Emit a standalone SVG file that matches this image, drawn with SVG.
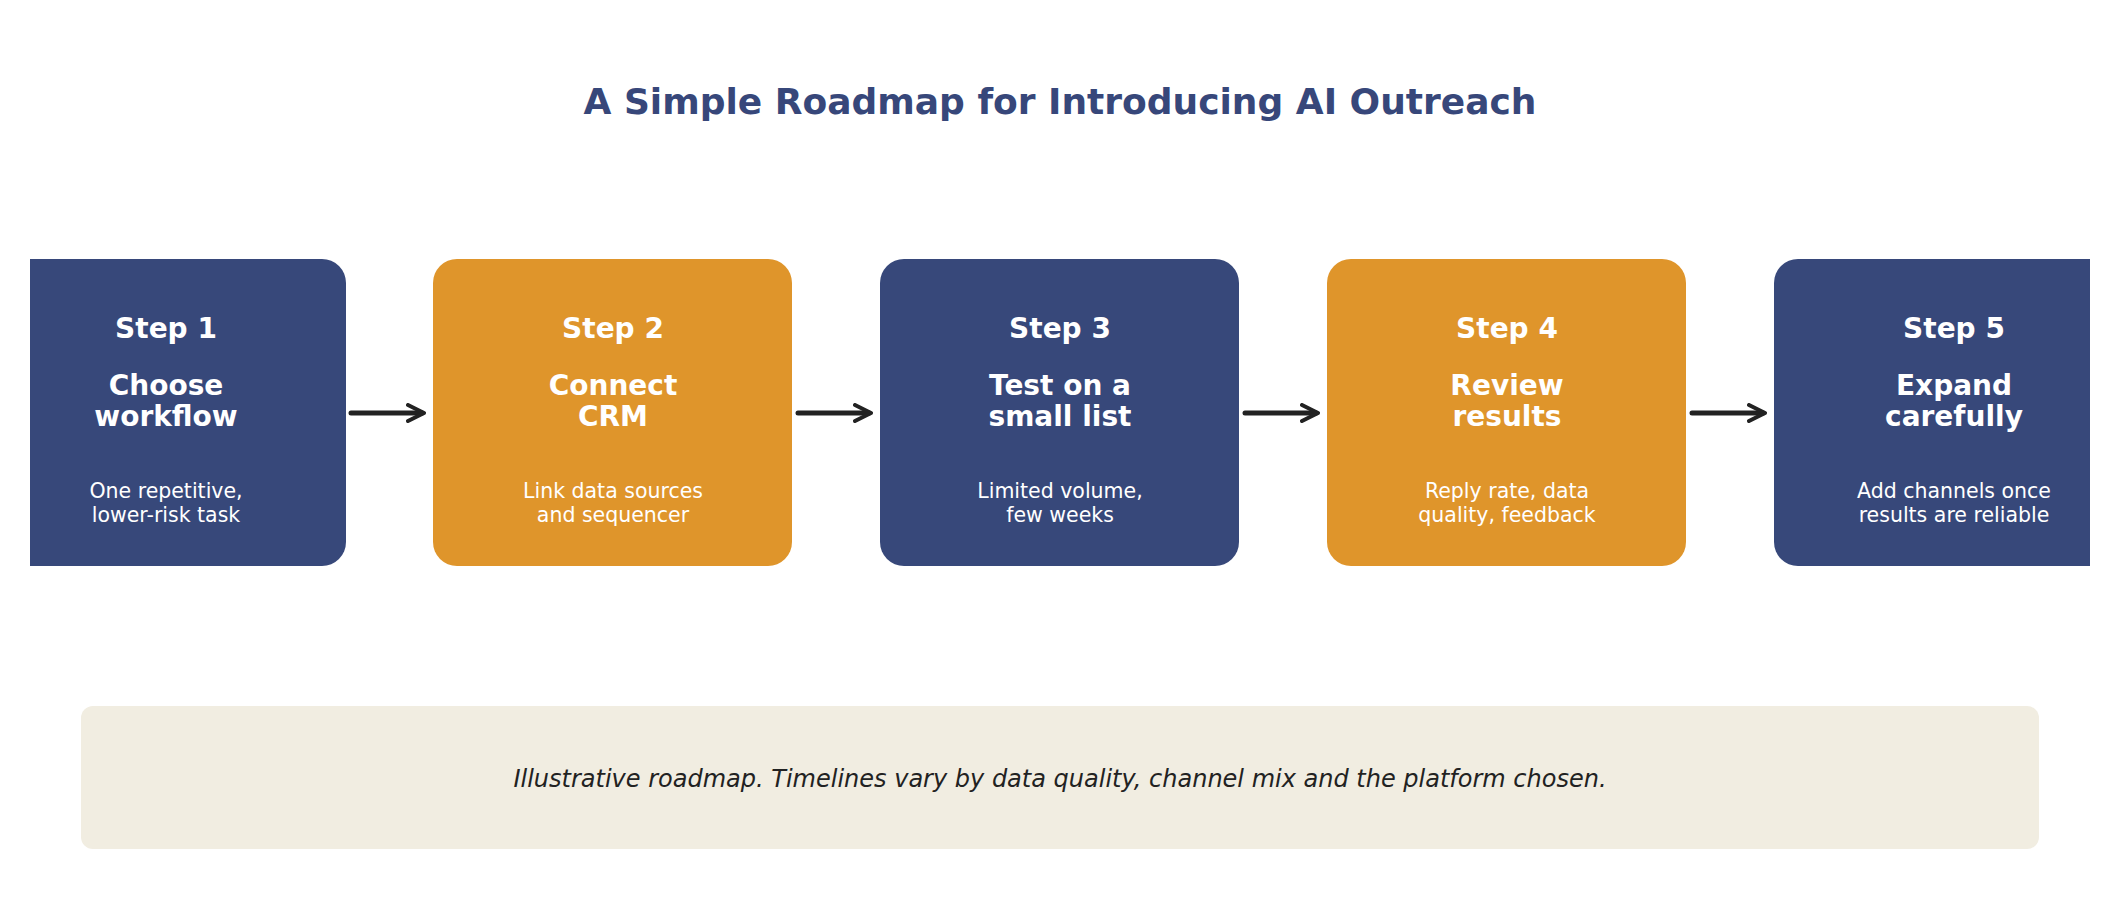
<svg xmlns="http://www.w3.org/2000/svg" width="2120" height="919" viewBox="0 0 2120 919">
<style>
text{font-family:"DejaVu Sans","Liberation Sans",sans-serif;text-anchor:middle}
.t{font-size:36px;font-weight:bold;fill:#37477a}
.s{font-size:28px;font-weight:bold;fill:#fff}
.h{font-size:28px;font-weight:bold;fill:#fff}
.d{font-size:20.5px;fill:#fff}
.b{fill:#37487a}.o{fill:#df952b}
.f{font-size:24px;font-style:italic;fill:#222}
</style>
<defs>
<clipPath id="c"><rect x="30" y="0" width="2060" height="919"/></clipPath>
<marker id="a" viewBox="0 0 10 10" refX="8" refY="5" markerWidth="4" markerHeight="4" orient="auto" markerUnits="strokeWidth"><path d="M1,1 L9,5 L1,9" fill="none" stroke="#222" stroke-width="2" stroke-linecap="round" stroke-linejoin="round"/></marker>
</defs>
<rect width="2120" height="919" fill="#fff"/>
<text class="t" x="1060" y="114">A Simple Roadmap for Introducing AI Outreach</text>
<g clip-path="url(#c)">
<g id="step1"><rect class="b" x="-13" y="259" width="359" height="307" rx="24"/>
<text class="s" x="166" y="338">Step 1</text><text class="h" x="166" y="395">Choose</text><text class="h" x="166" y="426">workflow</text><text class="d" x="166" y="498">One repetitive,</text><text class="d" x="166" y="522">lower-risk task</text></g>
<g id="step2"><rect class="o" x="433" y="259" width="359" height="307" rx="24"/>
<text class="s" x="613" y="338">Step 2</text><text class="h" x="613" y="395">Connect</text><text class="h" x="613" y="426">CRM</text><text class="d" x="613" y="498">Link data sources</text><text class="d" x="613" y="522">and sequencer</text></g>
<g id="step3"><rect class="b" x="880" y="259" width="359" height="307" rx="24"/>
<text class="s" x="1060" y="338">Step 3</text><text class="h" x="1060" y="395">Test on a</text><text class="h" x="1060" y="426">small list</text><text class="d" x="1060" y="498">Limited volume,</text><text class="d" x="1060" y="522">few weeks</text></g>
<g id="step4"><rect class="o" x="1327" y="259" width="359" height="307" rx="24"/>
<text class="s" x="1507" y="338">Step 4</text><text class="h" x="1507" y="395">Review</text><text class="h" x="1507" y="426">results</text><text class="d" x="1507" y="498">Reply rate, data</text><text class="d" x="1507" y="522">quality, feedback</text></g>
<g id="step5"><rect class="b" x="1774" y="259" width="359" height="307" rx="24"/>
<text class="s" x="1954" y="338">Step 5</text><text class="h" x="1954" y="395">Expand</text><text class="h" x="1954" y="426">carefully</text><text class="d" x="1954" y="498">Add channels once</text><text class="d" x="1954" y="522">results are reliable</text></g>
</g>
<g id="connectors" stroke="#222" stroke-width="5" stroke-linecap="round" marker-end="url(#a)">
<line x1="351" y1="413" x2="422" y2="413"/>
<line x1="798" y1="413" x2="869" y2="413"/>
<line x1="1245" y1="413" x2="1316" y2="413"/>
<line x1="1692" y1="413" x2="1763" y2="413"/>
</g>
<g id="note"><rect x="81" y="706" width="1958" height="143" rx="12" fill="#f1ede1"/>
<text class="f" x="1060" y="787">Illustrative roadmap. Timelines vary by data quality, channel mix and the platform chosen.</text></g>
</svg>
